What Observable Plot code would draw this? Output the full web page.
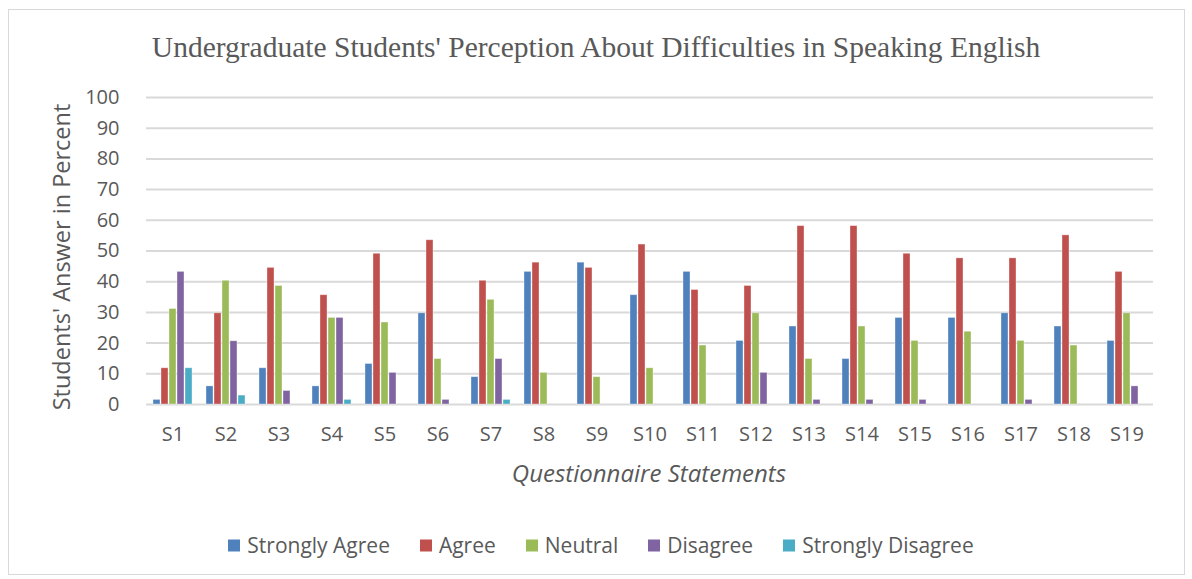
<!DOCTYPE html>
<html>
<head>
<meta charset="utf-8">
<script src="https://cdn.jsdelivr.net/npm/d3@7"></script>
<script src="https://cdn.jsdelivr.net/npm/@observablehq/plot@0.6"></script>
<style>
  html, body { margin: 0; padding: 0; background: #fff; }
  #wrap { position: relative; width: 1192px; height: 579px; overflow: hidden; font-family: "Open Sans", sans-serif; color: #595959; }
  #frame { position: absolute; left: 8px; top: 9px; width: 1175px; height: 564px; border: 1px solid #d9d9d9; }
  #title { position: absolute; left: 0; top: 33px; width: 1192px; text-align: center; font-family: "Liberation Serif", "Times New Roman", serif; font-size: 29.5px; line-height: 1; color: #595959; white-space: nowrap; }
  #chart { position: absolute; left: 0; top: 0; }
  #ytitle { position: absolute; left: 62px; top: 257px; transform: translate(-50%, -50%) rotate(-90deg); font-size: 23.5px; white-space: nowrap; line-height: 1; }
  #xtitle { position: absolute; left: 649px; top: 473px; transform: translate(-50%, -50%); font-size: 24px; font-style: italic; white-space: nowrap; line-height: 1; }
  #legend { position: absolute; left: 0; width: 1202px; top: 545px; transform: translateY(-50%); display: flex; justify-content: center; gap: 30px; font-size: 21px; line-height: 1; }
  .item { display: flex; align-items: center; gap: 7px; }
  .sw { width: 12px; height: 12px; display: inline-block; }
</style>
</head>
<body>
<div id="wrap">
  <div id="frame"></div>
  <div id="chart"></div>
  <div id="title">Undergraduate Students' Perception About Difficulties in Speaking English</div>
  <div id="ytitle">Students' Answer in Percent</div>
  <div id="xtitle">Questionnaire Statements</div>
  <div id="legend"></div>
</div>
<script>
const statements = ["S1","S2","S3","S4","S5","S6","S7","S8","S9","S10","S11","S12","S13","S14","S15","S16","S17","S18","S19"];
const seriesNames = ["Strongly Agree","Agree","Neutral","Disagree","Strongly Disagree"];
const seriesColors = ["#4F81BD","#C0504D","#9BBB59","#8064A2","#4BACC6"];
const stronglyAgree = [1.5,5.9,11.8,5.9,13.2,29.7,8.9,43.2,46.2,35.6,43.2,20.7,25.4,14.8,28.2,28.2,29.7,25.4,20.7];
const agree = [11.8,29.7,44.5,35.6,49.1,53.5,40.3,46.2,44.5,52.1,37.3,38.6,58.1,58.1,49.1,47.6,47.6,55.1,43.2];
const neutral = [31.1,40.3,38.6,28.2,26.7,14.8,34.1,10.3,8.9,11.8,19.2,29.7,14.8,25.4,20.7,23.7,20.7,19.2,29.7];
const disagree = [43.2,20.6,4.4,28.2,10.3,1.5,14.8,0,0,0,0,10.3,1.5,1.5,1.5,0,1.5,0,5.9];
const stronglyDisagree = [11.8,2.9,0,1.5,0,0,1.5,0,0,0,0,0,0,0,0,0,0,0,0];
const yTicks = [0,10,20,30,40,50,60,70,80,90,100];

const seriesValues = [stronglyAgree, agree, neutral, disagree, stronglyDisagree];
const rows = [];
statements.forEach((s, i) => {
  seriesNames.forEach((name, j) => {
    const v = seriesValues[j][i];
    if (v > 0) rows.push({statement: s, series: name, value: v});
  });
});

const chart = Plot.plot({
  width: 1192,
  height: 500,
  marginTop: 97,
  marginBottom: 96,
  marginLeft: 141,
  marginRight: 34,
  style: {fontFamily: "'Open Sans', sans-serif", fontSize: "20px", color: "#595959", background: "transparent", overflow: "visible"},
  fx: {domain: statements, padding: 0, label: null, tickSize: 0, tickPadding: 22, axis: "bottom"},
  x: {domain: seriesNames, paddingInner: 0.18, paddingOuter: 0.9, axis: null},
  y: {domain: [0, 100], ticks: yTicks, tickSize: 0, tickPadding: 27, label: null, tickFormat: d => String(d)},
  color: {domain: seriesNames, range: seriesColors},
  marks: [
    Plot.ruleY(yTicks, {stroke: "#d9d9d9", strokeWidth: 2}),
    Plot.barY(rows, {fx: "statement", x: "series", y: "value", fill: "series", stroke: "white", strokeOpacity: 0.45, strokeWidth: 0.8})
  ]
});
document.getElementById("chart").appendChild(chart);

const legend = document.getElementById("legend");
seriesNames.forEach((name, j) => {
  const item = document.createElement("div");
  item.className = "item";
  const sw = document.createElement("span");
  sw.className = "sw";
  sw.style.background = seriesColors[j];
  const label = document.createElement("span");
  label.textContent = name;
  item.appendChild(sw);
  item.appendChild(label);
  legend.appendChild(item);
});
</script>
</body>
</html>
